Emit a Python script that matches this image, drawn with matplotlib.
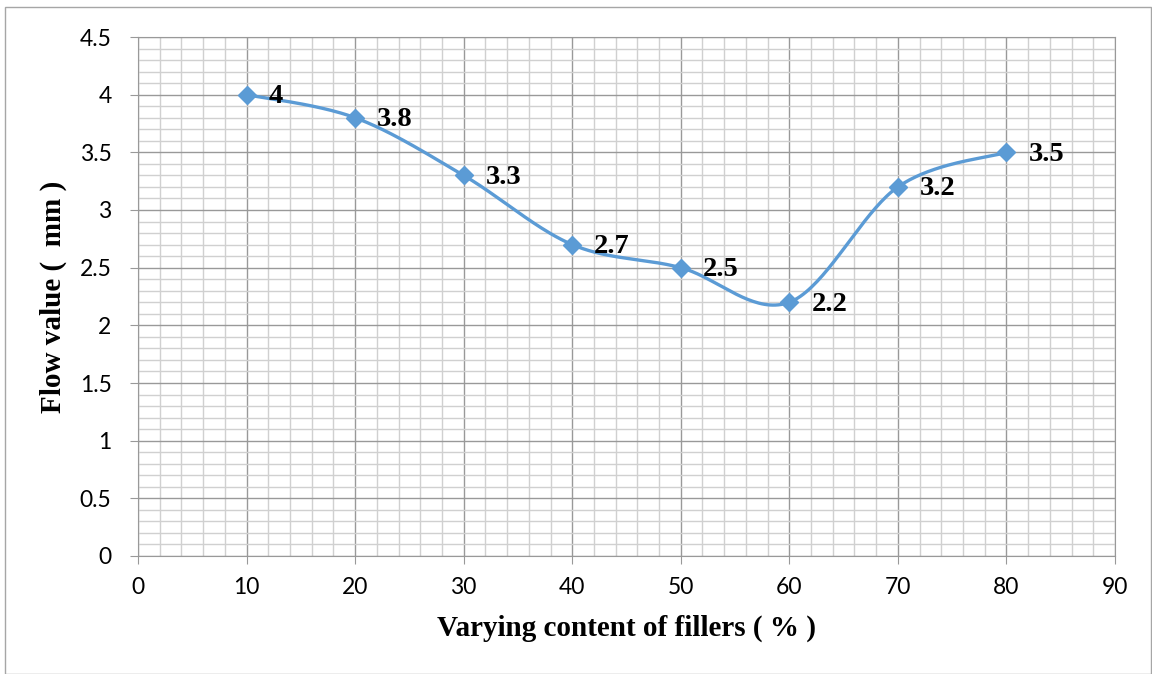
import numpy as np
import matplotlib
matplotlib.use("Agg")
import matplotlib.pyplot as plt
from matplotlib.patches import Rectangle
from matplotlib.ticker import MultipleLocator, FuncFormatter

filler_pct = [10, 20, 30, 40, 50, 60, 70, 80]
flow_value = [4, 3.8, 3.3, 2.7, 2.5, 2.2, 3.2, 3.5]
point_labels = ["4", "3.8", "3.3", "2.7", "2.5", "2.2", "3.2", "3.5"]

W, H = 1152, 674
fig = plt.figure(figsize=(W / 100, H / 100), dpi=100)
ax = fig.add_axes([138 / W, 1 - 556 / H, (1115 - 138) / W, (556 - 37) / H])

# Outer chart border
fig.patches.append(Rectangle((5 / W, 0), 1 - 6 / W, 1 - 7 / H, transform=fig.transFigure,
                             fill=False, edgecolor="#a6a6a6", linewidth=1.0))

ax.set_xlim(0, 90)
ax.set_ylim(0, 4.5)
ax.xaxis.set_major_locator(MultipleLocator(10))
ax.xaxis.set_minor_locator(MultipleLocator(2))
ax.yaxis.set_major_locator(MultipleLocator(0.5))
ax.yaxis.set_minor_locator(MultipleLocator(0.1))
ax.yaxis.set_major_formatter(FuncFormatter(lambda v, p: f"{v:g}"))
ax.grid(which="minor", color="#d0d0d0", linewidth=1.0)
ax.grid(which="major", color="#999999", linewidth=1.0)
ax.set_axisbelow(True)
for s in ax.spines.values():
    s.set_color("#999999")
ax.tick_params(which="minor", length=0)
ax.tick_params(which="major", length=6, color="#999999", labelsize=16.5)
ax.tick_params(axis="x", pad=9)
ax.tick_params(axis="y", pad=13)
for lab in ax.get_xticklabels() + ax.get_yticklabels():
    lab.set_fontfamily("Lato")

# Catmull-Rom (Excel-like smoothed line) in display space
def smooth(xs, ys, n=40):
    pts = ax.transData.transform(np.column_stack([xs, ys]))
    out = []
    m = len(pts)
    for i in range(m - 1):
        p0 = pts[i - 1] if i > 0 else pts[i]
        p1 = pts[i]
        p2 = pts[i + 1]
        p3 = pts[i + 2] if i + 2 < m else pts[i + 1]
        c1 = p1 + (p2 - p0) / 6
        c2 = p2 - (p3 - p1) / 6
        t = np.linspace(0, 1, n)[:, None]
        seg = ((1 - t) ** 3) * p1 + 3 * ((1 - t) ** 2) * t * c1 + 3 * (1 - t) * t ** 2 * c2 + t ** 3 * p2
        out.append(seg if i == 0 else seg[1:])
    curve = np.vstack(out)
    return ax.transData.inverted().transform(curve)

curve = smooth(filler_pct, flow_value)
ax.plot(curve[:, 0], curve[:, 1], color="#5b9bd5", linewidth=2.4, solid_capstyle="round")
ax.plot(filler_pct, flow_value, linestyle="none", marker="D", markersize=9,
        color="#5b9bd5")

for x, y, t in zip(filler_pct, flow_value, point_labels):
    ax.annotate(t, (x, y), xytext=(22, -2), textcoords="offset pixels",
                ha="left", va="center", fontsize=20.5, fontweight="bold",
                fontfamily="Liberation Serif", color="black")

ax.set_xlabel("Varying content of fillers ( % )", fontsize=21, fontweight="bold",
              fontfamily="Liberation Serif", labelpad=12)
ax.set_ylabel("Flow value (  mm )", fontsize=21, fontweight="bold",
              fontfamily="Liberation Serif", labelpad=9)

fig.savefig("out.png", dpi=100)
